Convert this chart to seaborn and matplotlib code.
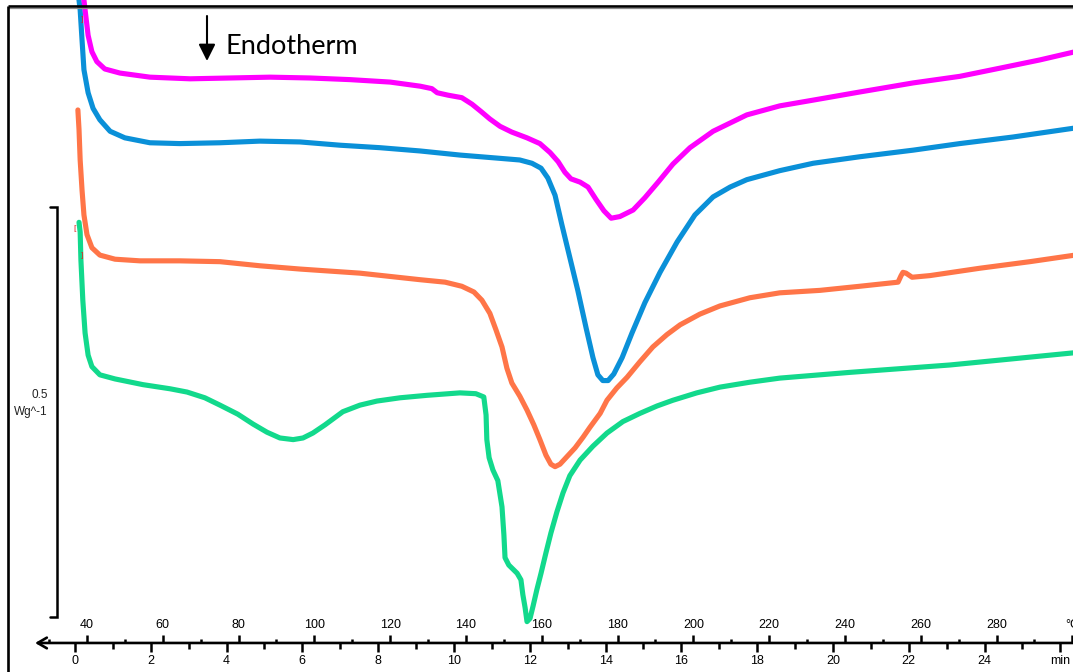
import numpy as np
import pandas as pd
import matplotlib
matplotlib.use("Agg")
import matplotlib.pyplot as plt
import matplotlib.transforms as mtransforms
import seaborn as sns

# DSC heat-flow traces: temperature (°C) vs heat flow (W/g, curves stacked with offsets)
temp_magenta = [38.9, 39.5, 40.3, 41.3, 42.6, 44.7, 48.7, 56.6, 67.2, 77.8,
                88.3, 98.9, 109.4, 120.0, 127.9, 131.0, 132.4, 135.3, 138.9, 141.6,
                144.0, 146.3, 149.0, 152.1, 156.1, 159.5, 162.2, 164.3, 166.1, 167.7,
                170.1, 172.2, 174.3, 176.4, 178.3, 180.6, 184.1, 187.2, 190.7, 194.6,
                199.1, 205.2, 214.1, 222.8, 231.6, 244.0, 258.0, 270.3, 280.9, 291.4,
                300.7]
hf_magenta = [0.796, 0.772, 0.741, 0.721, 0.709, 0.700, 0.695, 0.690, 0.688, 0.689,
              0.690, 0.689, 0.687, 0.684, 0.679, 0.676, 0.671, 0.668, 0.665, 0.657,
              0.648, 0.639, 0.630, 0.623, 0.616, 0.609, 0.598, 0.587, 0.574, 0.566,
              0.562, 0.556, 0.541, 0.527, 0.518, 0.520, 0.528, 0.543, 0.562, 0.584,
              0.604, 0.624, 0.644, 0.655, 0.662, 0.672, 0.683, 0.691, 0.701, 0.711,
              0.721]

temp_blue = [37.6, 38.2, 38.7, 39.2, 40.3, 41.6, 43.4, 46.1, 50.0, 56.6,
             64.5, 75.1, 85.6, 96.2, 106.8, 117.3, 127.9, 138.4, 149.0, 154.2,
             157.4, 159.8, 161.6, 163.5, 165.3, 167.4, 169.5, 171.7, 173.5, 174.8,
             176.1, 177.5, 179.0, 181.2, 183.8, 187.2, 191.2, 195.7, 200.4, 205.2,
             209.7, 214.1, 222.8, 231.6, 244.0, 258.0, 270.3, 284.3, 300.7]
hf_blue = [0.796, 0.772, 0.735, 0.699, 0.671, 0.652, 0.638, 0.624, 0.616, 0.610,
           0.609, 0.610, 0.612, 0.611, 0.607, 0.604, 0.600, 0.595, 0.591, 0.589,
           0.585, 0.579, 0.567, 0.546, 0.510, 0.470, 0.430, 0.384, 0.348, 0.327,
           0.320, 0.320, 0.328, 0.348, 0.378, 0.415, 0.452, 0.489, 0.522, 0.544,
           0.556, 0.565, 0.576, 0.585, 0.593, 0.601, 0.609, 0.617, 0.628]

temp_orange = [37.6, 37.9, 38.2, 38.7, 39.2, 40.0, 41.3, 43.4, 47.4, 54.0,
               64.5, 75.1, 85.6, 96.2, 112.0, 127.9, 134.5, 138.9, 142.1, 144.2,
               146.3, 147.9, 149.5, 150.8, 152.1, 154.2, 156.1, 157.9, 159.5, 161.1,
               162.4, 163.5, 164.8, 166.6, 168.8, 170.9, 172.7, 175.4, 177.2, 179.8,
               182.5, 185.9, 189.3, 193.0, 196.5, 201.7, 207.0, 214.9, 222.8, 233.4,
               243.9, 254.0, 254.8, 255.3, 256.1, 257.7, 262.4, 275.6, 288.8, 300.7]
hf_orange = [0.650, 0.626, 0.589, 0.552, 0.522, 0.498, 0.482, 0.473, 0.468, 0.466,
             0.466, 0.465, 0.460, 0.456, 0.451, 0.443, 0.440, 0.435, 0.428, 0.418,
             0.402, 0.382, 0.361, 0.335, 0.317, 0.301, 0.284, 0.266, 0.248, 0.229,
             0.218, 0.215, 0.218, 0.227, 0.238, 0.251, 0.263, 0.280, 0.296, 0.311,
             0.324, 0.343, 0.361, 0.376, 0.388, 0.401, 0.411, 0.421, 0.427, 0.430,
             0.435, 0.440, 0.448, 0.452, 0.451, 0.446, 0.448, 0.457, 0.465, 0.473]

temp_green = [37.9, 38.2, 38.4, 38.9, 39.5, 40.3, 41.3, 43.4, 47.4, 54.8,
              61.9, 66.4, 71.1, 75.1, 79.8, 83.8, 87.5, 90.9, 94.4, 97.0,
              99.6, 102.8, 107.5, 112.0, 116.5, 122.6, 129.7, 138.4, 142.6, 144.7,
              145.3, 145.5, 146.1, 147.1, 148.4, 149.5, 150.0, 150.3, 151.3, 153.5,
              154.5, 155.0, 155.6, 156.1, 156.9, 157.7, 158.7, 159.8, 161.1, 162.4,
              164.0, 165.6, 167.4, 170.1, 173.5, 177.2, 181.4, 185.9, 190.4, 194.6,
              200.9, 207.0, 214.9, 222.8, 241.3, 267.7, 300.7]
hf_green = [0.513, 0.501, 0.467, 0.418, 0.378, 0.351, 0.337, 0.327, 0.322, 0.315,
            0.310, 0.306, 0.299, 0.290, 0.279, 0.267, 0.257, 0.250, 0.248, 0.250,
            0.256, 0.266, 0.282, 0.290, 0.295, 0.299, 0.302, 0.305, 0.304, 0.300,
            0.278, 0.248, 0.226, 0.211, 0.198, 0.166, 0.132, 0.104, 0.095, 0.085,
            0.077, 0.059, 0.043, 0.026, 0.030, 0.045, 0.065, 0.085, 0.110, 0.134,
            0.160, 0.183, 0.204, 0.223, 0.240, 0.256, 0.270, 0.280, 0.289, 0.296,
            0.305, 0.312, 0.318, 0.323, 0.330, 0.339, 0.354]

# Integration limit markers (temperature, heat flow, symbol)
marker_temp = [36.8, 38.7, 38.7]
marker_hf = [0.506, 0.473, 0.760]
marker_sym = ["[", "]", "]"]

# Dual x-axis: temperature and elapsed time
TEMP_MAJOR = list(range(40, 301, 20))
TEMP_LABELS = [str(v) for v in range(40, 281, 20)] + ["°C"]
TEMP_MINOR = list(range(30, 300, 20))
TIME_MAJOR = list(range(0, 27, 2))
TIME_LABELS = [str(v) for v in range(0, 25, 2)] + ["min"]
TIME_MINOR = list(range(1, 26, 2))
HEATING_RATE = 10.0   # °C/min
START_TEMP = 36.83    # °C at t = 0 min

SCALE_BAR = 0.5       # W/g
SCALE_BASE = 0.032

runs = {
    "run_green": (temp_green, hf_green),
    "run_orange": (temp_orange, hf_orange),
    "run_blue": (temp_blue, hf_blue),
    "run_magenta": (temp_magenta, hf_magenta),
}
palette = {
    "run_green": "#12d98c",
    "run_orange": "#ff7548",
    "run_blue": "#0a90d8",
    "run_magenta": "#ff00ff",
}

df = pd.concat(
    [pd.DataFrame({"temperature": t, "heat_flow": h, "run": name})
     for name, (t, h) in runs.items()],
    ignore_index=True,
)

sns.set_theme(style="ticks")
plt.rcParams["font.family"] = ["Liberation Sans", "DejaVu Sans"]

fig = plt.figure(figsize=(10.73, 6.72), dpi=100, facecolor="white")
ax = fig.add_axes([0, 0, 1, 1])
ax.set_facecolor("white")

sns.lineplot(data=df, x="temperature", y="heat_flow", hue="run",
             hue_order=list(runs.keys()), palette=palette,
             estimator=None, sort=False, legend=False,
             linewidth=3.7, ax=ax)
for line in ax.get_lines():
    line.set_solid_joinstyle("round")
    line.set_solid_capstyle("round")

ax.set_xlim(17.05, 300.16)
ax.set_ylim(-0.0354, 0.7841)
ax.set_xlabel("")
ax.set_ylabel("")
ax.set_xticks([])
ax.set_yticks([])
for sp in ax.spines.values():
    sp.set_visible(False)

# small red integration markers
for mt, mh, ms in zip(marker_temp, marker_hf, marker_sym):
    ax.text(mt, mh, ms, color="#e02020", fontsize=6, ha="center", va="center")

# temperature scale: ticks pointing up, labels above the baseline
sec_temp = ax.secondary_xaxis(0.0, transform=ax.transData)
sec_temp.set_alignment("top")
sec_temp.set_ticks(TEMP_MAJOR, labels=TEMP_LABELS)
sec_temp.set_ticks(TEMP_MINOR, minor=True)
sec_temp.tick_params(axis="x", which="major", direction="out", length=5.8,
                     width=1.8, pad=2.5, labelsize=9, colors="black")
sec_temp.tick_params(axis="x", which="minor", direction="out", length=3.2,
                     width=1.8, colors="black")
for sp in sec_temp.spines.values():
    sp.set_visible(False)

# time scale: ticks pointing down, labels below the baseline
sec_time = ax.secondary_xaxis(
    0.0, transform=ax.transData,
    functions=(lambda T: (T - START_TEMP) / HEATING_RATE,
               lambda t: START_TEMP + HEATING_RATE * t))
sec_time.set_alignment("bottom")
sec_time.set_ticks(TIME_MAJOR, labels=TIME_LABELS)
sec_time.set_ticks(TIME_MINOR, minor=True)
sec_time.tick_params(axis="x", which="major", direction="out", length=6.5,
                     width=1.8, pad=2.5, labelsize=9, colors="black")
sec_time.tick_params(axis="x", which="minor", direction="out", length=4.3,
                     width=1.8, colors="black")
for sp in sec_time.spines.values():
    sp.set_visible(False)

# baseline with open arrowhead on the left
ax.annotate("", xy=(26.3, 0.0), xytext=(302.0, 0.0), xycoords="data",
            arrowprops=dict(arrowstyle="->, head_length=0.55, head_width=0.32",
                            lw=1.9, color="black", shrinkA=0, shrinkB=0,
                            mutation_scale=12), annotation_clip=False)

# heat-flow scale bar
blend = mtransforms.blended_transform_factory(ax.transAxes, ax.transData)
x_arm, x_bar = 50 / 1073, 57 / 1073
ax.plot([x_arm, x_bar, x_bar, x_arm],
        [SCALE_BASE, SCALE_BASE, SCALE_BASE + SCALE_BAR, SCALE_BASE + SCALE_BAR],
        color="black", lw=1.8, transform=blend, clip_on=False,
        solid_joinstyle="miter")
ax.text(48 / 1073, SCALE_BASE + 0.54 * SCALE_BAR, f"{SCALE_BAR:g}", transform=blend,
        ha="right", va="center", fontsize=8.5, color="#222222")
ax.text(48 / 1073, SCALE_BASE + 0.5 * SCALE_BAR, "Wg^-1", transform=blend,
        ha="right", va="center", fontsize=8.5, color="#222222")

# frame on the top and left
x0 = 8 / 1073
ytop = 1 - 6 / 672
ax.plot([x0, 1.0], [ytop, ytop], color="black", lw=1.9, transform=ax.transAxes,
        clip_on=False, solid_capstyle="butt")
ax.plot([x0, 1.0], [ytop - 2.2 / 672] * 2, color="#8a8a8a", lw=0.9,
        transform=ax.transAxes, clip_on=False)
ax.plot([x0, x0], [0.0, ytop], color="black", lw=1.9, transform=ax.transAxes,
        clip_on=False, solid_capstyle="butt")

# endotherm direction annotation
ax.annotate("", xy=(207 / 1073, 1 - 61 / 672), xytext=(207 / 1073, 1 - 16 / 672),
            xycoords="axes fraction",
            arrowprops=dict(arrowstyle="-|>, head_length=0.72, head_width=0.36",
                            lw=1.5, color="black", shrinkA=0, shrinkB=0,
                            mutation_scale=14))
ax.text(226 / 1073, 1 - 46 / 672, "Endotherm", transform=ax.transAxes,
        ha="left", va="center", fontsize=19.5, family=["Lato", "DejaVu Sans"],
        color="black")

fig.savefig("out.png", dpi=100, facecolor="white")
